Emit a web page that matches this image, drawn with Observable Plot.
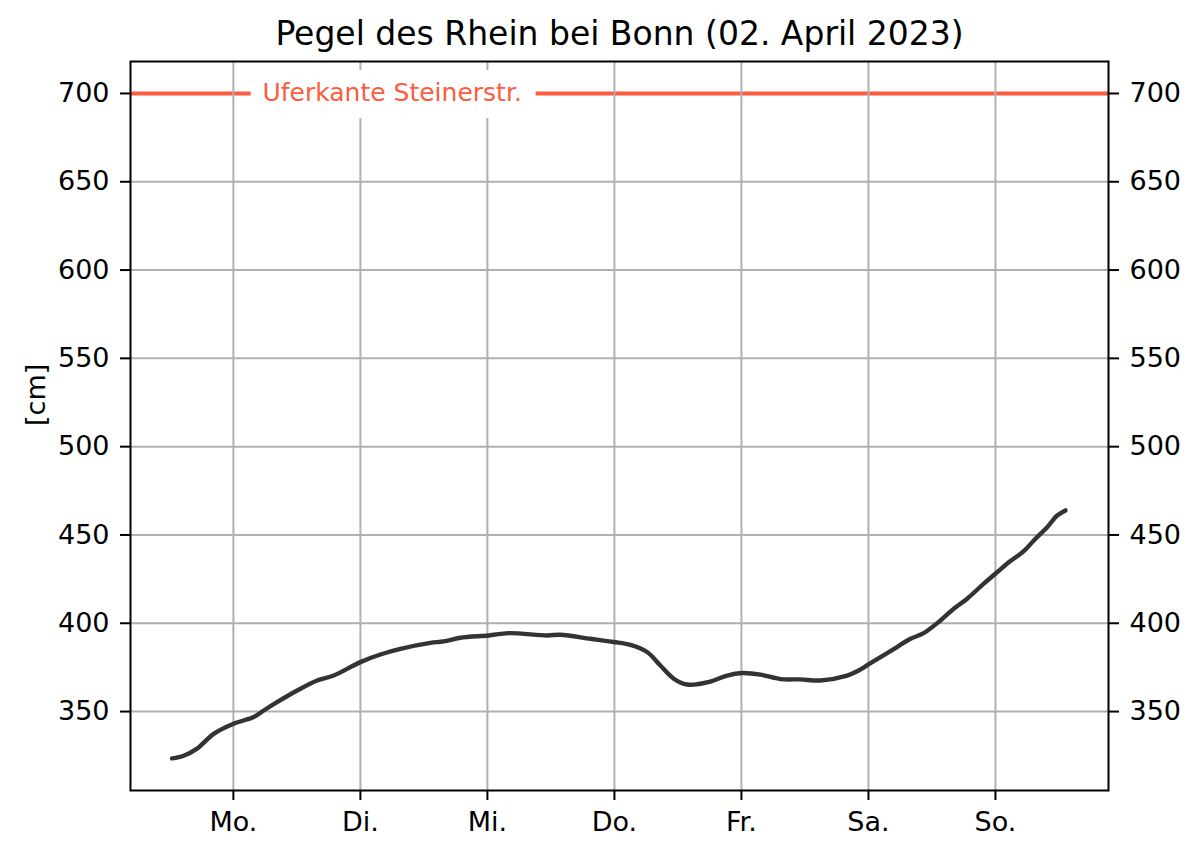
<!DOCTYPE html>
<html>
<head>
<meta charset="utf-8">
<script src="https://cdn.jsdelivr.net/npm/d3@7"></script>
<script src="https://cdn.jsdelivr.net/npm/@observablehq/plot@0.6"></script>
<style>
  html, body { margin: 0; padding: 0; background: #fff; }
  #chart { width: 1200px; height: 857px; }
</style>
</head>
<body>
<div id="chart"></div>
<script>
// Day offsets relative to Monday 00:00 (Mo. = 0 … So. = 6)
const days = [-0.483,-0.391,-0.286,-0.155,0.002,0.160,0.239,0.344,0.502,0.659,0.790,1.000,1.157,1.315,1.551,1.656,1.787,2.010,2.168,2.470,2.575,2.811,2.994,3.126,3.257,3.362,3.467,3.572,3.756,3.887,4.006,4.150,4.307,4.465,4.622,4.832,4.911,5.016,5.173,5.331,5.435,5.567,5.672,5.777,5.908,6.013,6.118,6.223,6.302,6.407,6.486,6.551];
// Water level [cm]
const levels = [323.5,325,329,337.4,343.1,346.9,350.6,355.3,361.9,367.6,370.4,378,382.3,385.5,388.9,389.7,391.8,393.1,394.4,393.1,393.5,391.2,389.4,387.7,383.7,376.1,368.6,365.3,367,370.4,371.8,370.9,368.4,368.2,367.6,370.4,372.8,377.4,384.2,391.2,394.4,401.6,408.2,413.9,422.4,428.9,435.2,440.8,446.9,454.4,461,463.9];

const dayTicks = [0, 1, 2, 3, 4, 5, 6];
const dayLabels = ["Mo.", "Di.", "Mi.", "Do.", "Fr.", "Sa.", "So."];
const levelTicks = [350, 400, 450, 500, 550, 600, 650, 700];

const title = "Pegel des Rhein bei Bonn (02. April 2023)";
const yLabel = "[cm]";
const thresholdLevel = 700;
const thresholdLabel = "Uferkante Steinerstr.";
const thresholdLabelDay = 1.25;

const data = days.map((d, i) => ({day: d, level: levels[i]}));
const red = "#fd5c3e";
const gridColor = "#b0b0b0";

const chart = Plot.plot({
  width: 1200,
  height: 857,
  marginLeft: 130,
  marginRight: 92,
  marginTop: 61,
  marginBottom: 67,
  style: {fontFamily: "DejaVu Sans", fontSize: "26px", background: "#fff", color: "#000"},
  x: {domain: [-0.81, 6.89]},
  y: {domain: [305.3, 718.1]},
  marks: [
    Plot.gridY(levelTicks, {stroke: gridColor, strokeOpacity: 1, strokeWidth: 2}),
    Plot.ruleY([thresholdLevel], {stroke: red, strokeWidth: 4}),
    Plot.gridX(dayTicks, {stroke: gridColor, strokeOpacity: 1, strokeWidth: 2}),
    Plot.rect([{day: thresholdLabelDay, level: thresholdLevel}], {
      x1: "day", x2: "day", y1: "level", y2: "level",
      insetLeft: -141, insetRight: -144, insetTop: -23, insetBottom: -25,
      fill: "white"
    }),
    Plot.text([{day: thresholdLabelDay, level: thresholdLevel, t: thresholdLabel}], {
      x: "day", y: "level", text: "t", fill: red, fontSize: 25, textAnchor: "middle", lineAnchor: "middle"
    }),
    Plot.line(data, {x: "day", y: "level", stroke: "#333333", strokeWidth: 4.4, curve: "catmull-rom"}),
    Plot.frame({stroke: "#000", strokeWidth: 2}),
    Plot.axisY(levelTicks, {anchor: "left", tickSize: 10, tickPadding: 11, fontSize: 27, strokeWidth: 2, label: null}),
    Plot.axisY(levelTicks, {anchor: "right", tickSize: 10, tickPadding: 11, fontSize: 27, strokeWidth: 2, label: null}),
    Plot.axisX(dayTicks, {anchor: "bottom", tickSize: 10, tickPadding: 11, fontSize: 27, strokeWidth: 2,
      tickFormat: d => dayLabels[dayTicks.indexOf(d)], label: null}),
    Plot.text([title], {frameAnchor: "top", dy: -27, fontSize: 33, lineAnchor: "middle"}),
    Plot.text([yLabel], {frameAnchor: "left", dx: -94, rotate: -90, fontSize: 27, lineAnchor: "middle"})
  ]
});
document.getElementById("chart").appendChild(chart);
</script>
</body>
</html>
